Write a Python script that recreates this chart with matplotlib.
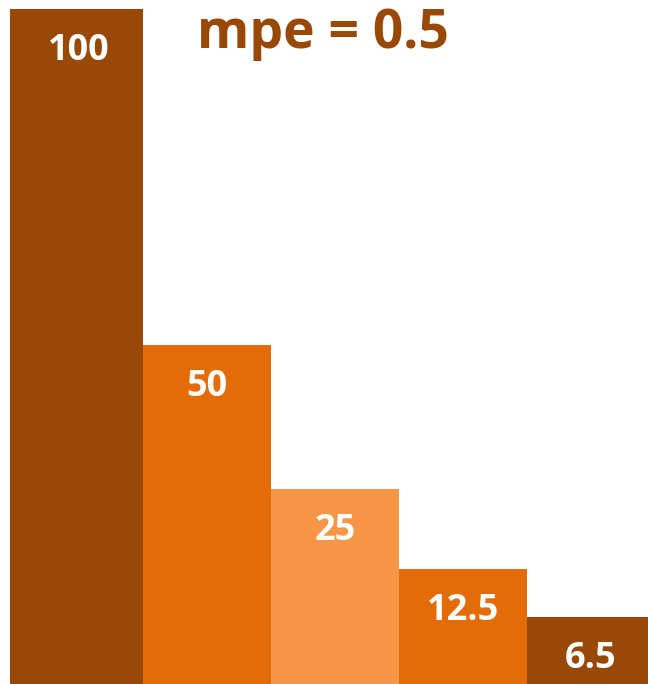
import matplotlib
matplotlib.use("Agg")
import matplotlib.pyplot as plt

# Data
categories = ["A", "B", "C", "D", "E"]
bar_heights = [100, 50.2, 28.9, 17.0, 9.9]
value_labels = ["100", "50", "25", "12.5", "6.5"]
bar_colors = ["#984807", "#E36C09", "#F79646", "#E36C09", "#984807"]
title_text = "mpe = 0.5"

W, H, DPI = 648, 684, 100
fig = plt.figure(figsize=(W / DPI, H / DPI), dpi=DPI)
ax = fig.add_axes([0, 0, 1, 1])

px_per_unit_x = 128.0
xmin = -0.5 - 15 / px_per_unit_x
xmax = xmin + W / px_per_unit_x
px_per_unit_y = 6.75
ymax = H / px_per_unit_y

x = list(range(len(categories)))
bars = ax.bar(x, bar_heights, width=1.0, color=bar_colors, linewidth=0)
# first bar reaches slightly further left in the reference
bars[0].set_x(bars[0].get_x() - 5 / px_per_unit_x)
bars[0].set_width(bars[0].get_width() + 5 / px_per_unit_x)

font = "Open Sans"
for xi, h, lab in zip(x, bar_heights, value_labels):
    ax.annotate(lab, xy=(xi, h), xytext=(0, -42 * 72 / DPI), textcoords="offset points",
                ha="center", va="center", color="white", fontsize=26,
                fontweight="bold", family=font)

ax.text((323 / W), 1 - 48 / H, title_text, transform=ax.transAxes, ha="center",
        va="baseline", color="#984807", fontsize=38.5, fontweight="bold", family=font)

ax.set_xlim(xmin, xmax)
ax.set_ylim(0, ymax)
ax.axis("off")
fig.savefig("out.png", dpi=DPI, facecolor="white")
